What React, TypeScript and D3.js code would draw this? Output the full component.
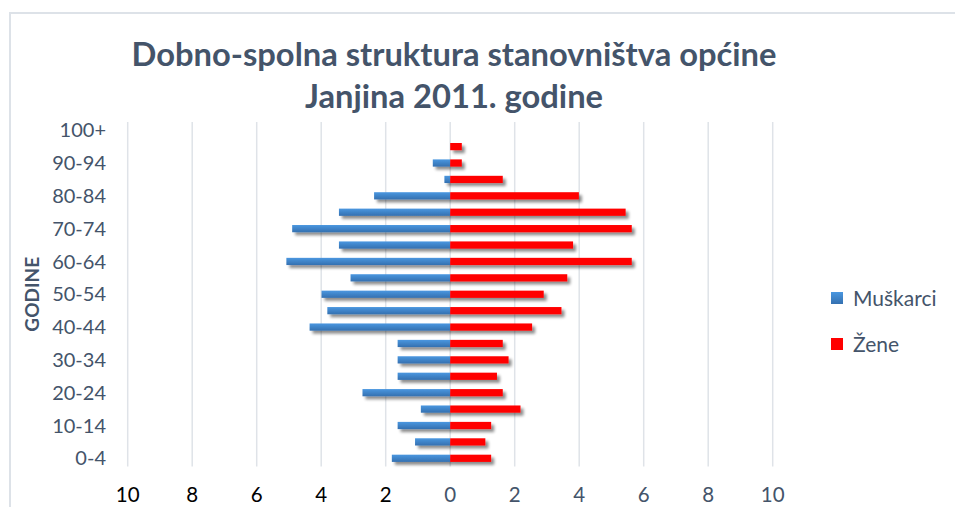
import * as d3 from 'd3';
import React from 'react';

// age groups, bottom to top
const ageGroups = [
  '0-4', '5-9', '10-14', '15-19', '20-24', '25-29', '30-34', '35-39', '40-44', '45-49',
  '50-54', '55-59', '60-64', '65-69', '70-74', '75-79', '80-84', '85-89', '90-94', '95-99', '100+'
];

// share of population (%)
const muskarci = [1.81, 1.09, 1.63, 0.91, 2.72, 1.63, 1.63, 1.63, 4.36, 3.81,
  3.99, 3.09, 5.08, 3.45, 4.90, 3.45, 2.36, 0.18, 0.54, 0, 0];
const zene = [1.27, 1.09, 1.27, 2.18, 1.63, 1.45, 1.81, 1.63, 2.54, 3.45,
  2.90, 3.63, 5.63, 3.81, 5.63, 5.44, 3.99, 1.63, 0.36, 0.36, 0];

const xTicks = [-10, -8, -6, -4, -2, 0, 2, 4, 6, 8, 10];

const App = () => {
  const width = 955;
  const height = 507;
  const textColor = '#44546a';
  const font = 'Lato, "Open Sans", sans-serif';

  const x = d3.scaleLinear().domain([-10, 10]).range([127.7, 772.7]);
  const y = d3.scaleBand<string>()
    .domain(ageGroups.slice().reverse())
    .range([122, 466.5])
    .paddingInner(0.56)
    .paddingOuter(0.28);

  return (
    <svg width={width} height={height} style={{ position: 'absolute', left: 0, top: 0 }}>
      <defs>
        <linearGradient id="blueGrad" x1="0" y1="0" x2="0" y2="1">
          <stop offset="0" stopColor="#4a97e0" />
          <stop offset="1" stopColor="#3470b0" />
        </linearGradient>
        <filter id="shadow" x="-10%" y="-50%" width="130%" height="250%">
          <feGaussianBlur in="SourceAlpha" stdDeviation="1.6" />
          <feOffset dx="2.5" dy="3" result="b" />
          <feComponentTransfer><feFuncA type="linear" slope="0.45" /></feComponentTransfer>
          <feMerge><feMergeNode /><feMergeNode in="SourceGraphic" /></feMerge>
        </filter>
      </defs>
      <rect x={0} y={0} width={width} height={height} fill="#fff" />
      {/* chart frame */}
      <path d={`M10,${height} V13 H${width}`} fill="none" stroke="#dde2e8" strokeWidth={2} />

      {/* title */}
      <text x={454} y={66} textAnchor="middle" fontFamily={font} fontWeight="bold"
        fontSize={32.7} fill={textColor}>Dobno-spolna struktura stanovništva općine</text>
      <text x={454} y={108} textAnchor="middle" fontFamily={font} fontWeight="bold"
        fontSize={32.7} fill={textColor}>Janjina 2011. godine</text>

      {/* gridlines */}
      {xTicks.map((t) => (
        <line key={t} x1={x(t)} x2={x(t)} y1={122} y2={466.5} stroke="#dfe3e8" strokeWidth={1.5} />
      ))}

      {/* bars */}
      <g filter="url(#shadow)">
        {ageGroups.map((g, i) => (
          muskarci[i] > 0 ? (
            <rect key={'m' + g} x={x(-muskarci[i])} y={y(g)} width={x(0) - x(-muskarci[i])}
              height={y.bandwidth()} fill="url(#blueGrad)" />
          ) : null
        ))}
        {ageGroups.map((g, i) => (
          zene[i] > 0 ? (
            <rect key={'z' + g} x={x(0)} y={y(g)} width={x(zene[i]) - x(0)}
              height={y.bandwidth()} fill="#ff0000" />
          ) : null
        ))}
      </g>

      {/* category labels (every second) */}
      {ageGroups.map((g, i) => (
        i % 2 === 0 ? (
          <text key={'l' + g} x={106} y={(y(g) as number) + y.bandwidth() / 2} dy="0.36em"
            textAnchor="end" fontFamily={font} fontSize={20} fill={textColor}>{g}</text>
        ) : null
      ))}

      {/* x tick labels */}
      {xTicks.map((t) => (
        <text key={'t' + t} x={x(t)} y={502} textAnchor="middle" fontFamily={font}
          fontSize={20.5} fill={t < 0 ? '#000' : textColor}>{Math.abs(t)}</text>
      ))}

      {/* y axis title */}
      <text transform={`translate(39,${(122 + 466.5) / 2}) rotate(-90)`} textAnchor="middle"
        fontFamily={font} fontWeight="bold" fontSize={19} fill={textColor}>GODINE</text>

      {/* legend */}
      <rect x={831} y={292} width={12} height={12} fill="url(#blueGrad)" />
      <text x={853} y={306} fontFamily={font} fontSize={21} fill={textColor}>Muškarci</text>
      <rect x={831} y={338} width={12} height={12} fill="#ff0000" />
      <text x={853} y={352} fontFamily={font} fontSize={21} fill={textColor}>Žene</text>
    </svg>
  );
};

export default App;
